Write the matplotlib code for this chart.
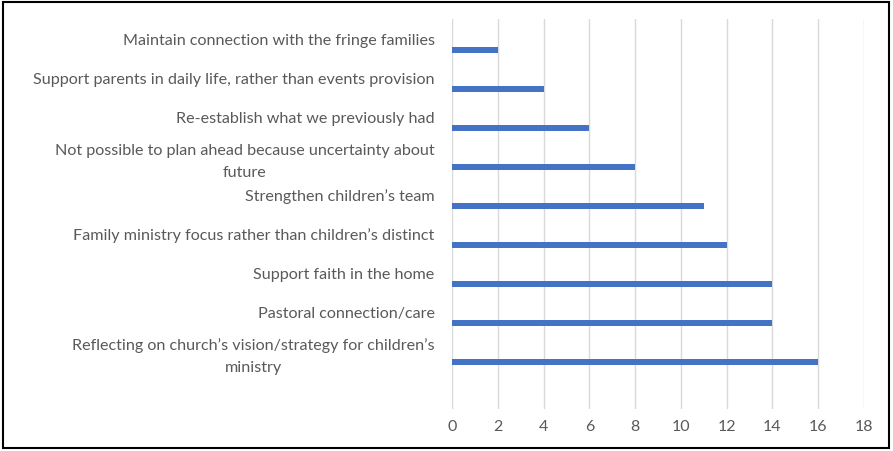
import numpy as np
import matplotlib.pyplot as plt
from matplotlib.patches import Rectangle

categories = [
    "Maintain connection with the fringe families",
    "Support parents in daily life, rather than events provision",
    "Re-establish what we previously had",
    "Not possible to plan ahead because uncertainty about\nfuture",
    "Strengthen children\u2019s team",
    "Family ministry focus rather than children\u2019s distinct",
    "Support faith in the home",
    "Pastoral connection/care",
    "Reflecting on church\u2019s vision/strategy for children\u2019s\nministry",
    "",
]
values = [2, 4, 6, 8, 11, 12, 14, 14, 16, 0]
xticks = list(range(0, 20, 2))

grey = "#595959"
plt.rcParams["font.family"] = ["Lato", "DejaVu Sans"]

fig = plt.figure(figsize=(8.93, 4.52), dpi=100)
ax = fig.add_axes([452 / 893, 1 - 410 / 452, 412 / 893, 390 / 452])

pos = np.arange(len(categories))
ax.barh(pos + 0.3, values, height=0.155, color="#4472C4", zorder=3)

ax.set_xlim(0, 18)
ax.set_ylim(len(categories) - 0.5, -0.5)
ax.set_xticks(xticks)
ax.set_xticklabels([str(t) for t in xticks], fontsize=11.5, color=grey)
ax.set_yticks(pos)
ax.set_yticklabels(categories, fontsize=11.6, color=grey, linespacing=1.7,
                   multialignment="center")
ax.tick_params(axis="y", length=0, pad=12.5)
ax.tick_params(axis="x", length=0, pad=7)
ax.grid(axis="x", color="#d9d9d9", linewidth=1, zorder=0)
for s in ax.spines.values():
    s.set_visible(False)

fig.patches.append(Rectangle((3 / 893, 3 / 452), 886 / 893, 446 / 452,
                             transform=fig.transFigure, fill=False,
                             edgecolor="black", linewidth=1.5))

fig.savefig("out.png", dpi=100)
